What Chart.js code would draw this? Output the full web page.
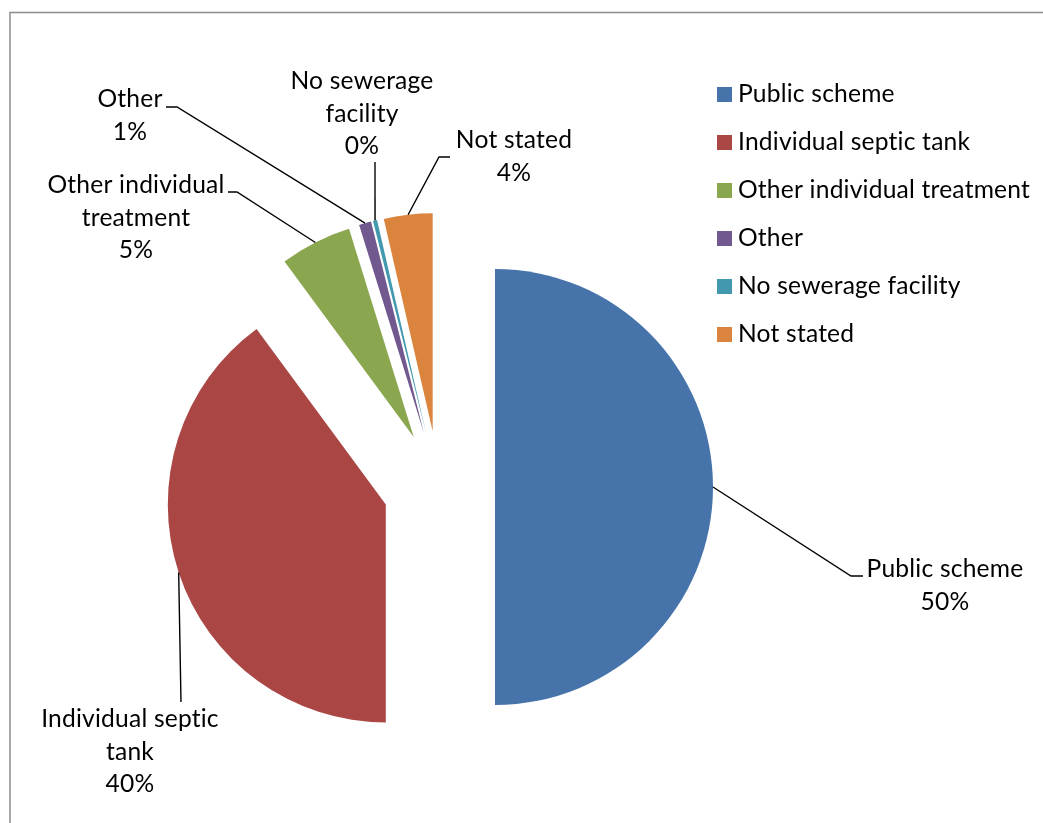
<!DOCTYPE html>
<html>
<head>
<meta charset="utf-8">
<script src="https://cdn.jsdelivr.net/npm/chart.js@4.4.0/dist/chart.umd.min.js"></script>
<style>
  html, body { margin: 0; padding: 0; background: #fff; overflow: hidden; }
</style>
</head>
<body>
<canvas id="pie" width="1043" height="823"></canvas>
<script>
// Sewerage facilities, share of dwellings (percent)
var categories = ['Public scheme', 'Individual septic tank', 'Other individual treatment', 'Other', 'No sewerage facility', 'Not stated'];
var shares = [50.0, 39.9, 5.3, 0.9, 0.3, 3.6];
// how the data labels wrap
var labelLines = [['Public scheme'], ['Individual septic', 'tank'], ['Other individual', 'treatment'], ['Other'], ['No sewerage', 'facility'], ['Not stated']];
var colors = ['#4674AA', '#AA4644', '#8AA64F', '#71588F', '#4198AF', '#DB843D'];

var FONT = '24.6px Lato, "Open Sans", sans-serif';
var LINE_H = 32.5;

// label placement: centre x, first baseline, leader bend / end points
var labelPlace = [
  { x: 945, y: 577, bend: [851, 576], end: [863, 576] },
  { x: 130, y: 727, bend: null, end: [181, 702] },
  { x: 136, y: 193, bend: [237, 192], end: [228, 192] },
  { x: 130, y: 107, bend: [177, 107], end: [166, 107] },
  { x: 362, y: 89, bend: null, end: [375, 162] },
  { x: 514, y: 148, bend: [439, 157], end: [450, 157] }
];

// push every slice out from the centre along its middle angle
var explode = {
  id: 'explode',
  afterDatasetUpdate: function (chart, args, opts) {
    args.meta.data.forEach(function (arc) {
      var mid = (arc.startAngle + arc.endAngle) / 2;
      arc.x += Math.cos(mid) * opts.distance;
      arc.y += Math.sin(mid) * opts.distance;
    });
  }
};

// outer frame
var frame = {
  id: 'frame',
  beforeDraw: function (chart) {
    var ctx = chart.ctx;
    ctx.save();
    ctx.fillStyle = '#fff';
    ctx.fillRect(0, 0, chart.width, chart.height);
    ctx.strokeStyle = '#8c8c8c';
    ctx.lineWidth = 1.5;
    ctx.strokeRect(10, 12.5, chart.width + 20, chart.height + 20);
    ctx.restore();
  }
};

function setFont(ctx) {
  ctx.font = FONT;
  if ('letterSpacing' in ctx) ctx.letterSpacing = '0.2px'; // also breaks the "ti" ligature
}

// data labels with leader lines
var pieLabels = {
  id: 'pieLabels',
  afterDatasetsDraw: function (chart) {
    var ctx = chart.ctx;
    var arcs = chart.getDatasetMeta(0).data;
    var total = shares.reduce(function (a, b) { return a + b; }, 0);
    ctx.save();
    ctx.strokeStyle = '#000';
    ctx.lineWidth = 1.4;
    ctx.fillStyle = '#000';
    setFont(ctx);
    ctx.textAlign = 'center';
    ctx.textBaseline = 'alphabetic';
    arcs.forEach(function (arc, i) {
      var p = labelPlace[i];
      var mid = (arc.startAngle + arc.endAngle) / 2;
      var sx = arc.x + Math.cos(mid) * arc.outerRadius;
      var sy = arc.y + Math.sin(mid) * arc.outerRadius;
      ctx.beginPath();
      ctx.moveTo(sx, sy);
      if (p.bend) ctx.lineTo(p.bend[0], p.bend[1]);
      ctx.lineTo(p.end[0], p.end[1]);
      ctx.stroke();
      var lines = labelLines[i].concat([Math.round(shares[i] / total * 100) + '%']);
      lines.forEach(function (t, k) {
        ctx.fillText(t, p.x, p.y + k * LINE_H);
      });
    });
    ctx.restore();
  }
};

// legend on the right
var sideLegend = {
  id: 'sideLegend',
  afterDraw: function (chart) {
    var ctx = chart.ctx;
    ctx.save();
    setFont(ctx);
    ctx.textAlign = 'left';
    ctx.textBaseline = 'alphabetic';
    categories.forEach(function (c, i) {
      var base = 102 + i * 48;
      ctx.fillStyle = colors[i];
      ctx.fillRect(717, base - 15, 15, 15);
      ctx.fillStyle = '#000';
      ctx.fillText(c, 738, base);
    });
    ctx.restore();
  }
};

var ctx = document.getElementById('pie').getContext('2d');
var chart = new Chart(ctx, {
  type: 'pie',
  data: {
    labels: categories,
    datasets: [{
      data: shares,
      backgroundColor: colors,
      borderWidth: 0
    }]
  },
  options: {
    responsive: false,
    animation: false,
    radius: 218,
    layout: { padding: { left: 0, right: 165, top: 151, bottom: 0 } },
    plugins: {
      legend: { display: false },
      tooltip: { enabled: false },
      explode: { distance: 56 }
    }
  },
  plugins: [frame, explode, pieLabels, sideLegend]
});
</script>
</body>
</html>
